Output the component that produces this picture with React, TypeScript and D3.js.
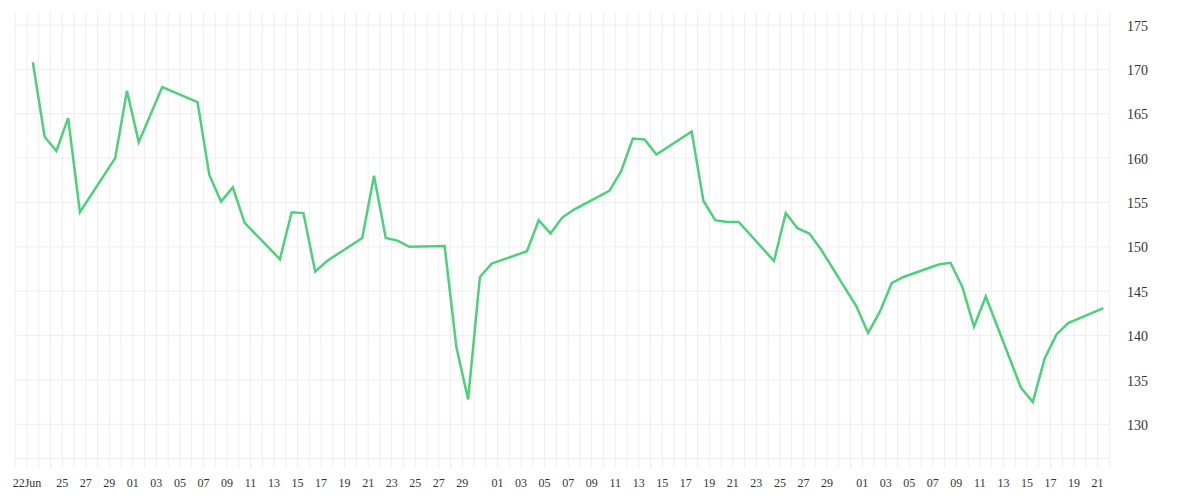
import React from "react";
import * as d3 from "d3";

// ---- data ----
const dates: string[] = [
  "2020-06-22", "2020-06-23", "2020-06-24", "2020-06-25", "2020-06-26",
  "2020-06-29", "2020-06-30", "2020-07-01", "2020-07-03",
  "2020-07-06", "2020-07-07", "2020-07-08", "2020-07-09", "2020-07-10",
  "2020-07-13", "2020-07-14", "2020-07-15", "2020-07-16", "2020-07-17",
  "2020-07-20", "2020-07-21", "2020-07-22", "2020-07-23", "2020-07-24",
  "2020-07-27", "2020-07-28", "2020-07-29", "2020-07-30", "2020-07-31",
  "2020-08-03", "2020-08-04", "2020-08-05", "2020-08-06", "2020-08-07",
  "2020-08-10", "2020-08-11", "2020-08-12", "2020-08-13", "2020-08-14",
  "2020-08-17", "2020-08-18", "2020-08-19", "2020-08-20", "2020-08-21",
  "2020-08-24", "2020-08-25", "2020-08-26", "2020-08-27", "2020-08-28",
  "2020-08-31", "2020-09-01", "2020-09-02", "2020-09-03", "2020-09-04",
  "2020-09-07", "2020-09-08", "2020-09-09", "2020-09-10", "2020-09-11",
  "2020-09-14", "2020-09-15", "2020-09-16", "2020-09-17", "2020-09-18",
  "2020-09-21",
];

const prices: number[] = [
  170.8, 162.4, 160.8, 164.5, 153.9,
  160.0, 167.6, 161.8, 168.0,
  166.3, 158.1, 155.1, 156.7, 152.7,
  148.6, 153.9, 153.8, 147.2, 148.4,
  151.0, 158.0, 151.0, 150.7, 150.0,
  150.1, 138.7, 132.8, 146.6, 148.1,
  149.5, 153.0, 151.5, 153.3, 154.2,
  156.3, 158.5, 162.2, 162.1, 160.4,
  163.0, 155.2, 153.0, 152.8, 152.8,
  148.4, 153.8, 152.1, 151.5, 149.7,
  143.3, 140.3, 142.7, 145.9, 146.6,
  148.0, 148.2, 145.5, 141.0, 144.4,
  134.1, 132.5, 137.4, 140.1, 141.4,
  143.1,
];

const xTickDates: string[] = [
  "2020-06-22", "2020-06-25", "2020-06-27", "2020-06-29",
  "2020-07-01", "2020-07-03", "2020-07-05", "2020-07-07", "2020-07-09",
  "2020-07-11", "2020-07-13", "2020-07-15", "2020-07-17", "2020-07-19",
  "2020-07-21", "2020-07-23", "2020-07-25", "2020-07-27", "2020-07-29",
  "2020-08-01", "2020-08-03", "2020-08-05", "2020-08-07", "2020-08-09",
  "2020-08-11", "2020-08-13", "2020-08-15", "2020-08-17", "2020-08-19",
  "2020-08-21", "2020-08-23", "2020-08-25", "2020-08-27", "2020-08-29",
  "2020-09-01", "2020-09-03", "2020-09-05", "2020-09-07", "2020-09-09",
  "2020-09-11", "2020-09-13", "2020-09-15", "2020-09-17", "2020-09-19",
  "2020-09-21",
];

const yTicks: number[] = [130, 135, 140, 145, 150, 155, 160, 165, 170, 175];

const domainStart = "2020-06-21";
const domainEnd = "2020-09-22";

// ---- layout ----
const W = 1200;
const H = 500;
const LEFT = 15.2;
const RIGHT = 1109.3;
const TOP = 12.3;
const BOTTOM = 458.5;
const TICK_BOTTOM = 468;
const LINE_COLOR = "#4cd17a";
const GRID_COLOR = "#eeeeee";
const TEXT_COLOR = "#333333";

const parse = d3.timeParse("%Y-%m-%d");

export default function App() {
  const start = parse(domainStart) as Date;
  const end = parse(domainEnd) as Date;

  const x = d3.scaleTime().domain([start, end]).range([LEFT, RIGHT]);
  const y = d3.scaleLinear().domain([130, 175]).range([424.3, 25]);

  const points = dates.map((s, i) => ({
    date: d3.timeHour.offset(parse(s) as Date, 12),
    value: prices[i],
  }));

  const line = d3
    .line<{ date: Date; value: number }>()
    .x((d) => x(d.date))
    .y((d) => y(d.value));

  const days = d3.timeDay.range(start, d3.timeDay.offset(end, 1));
  const fmtDay = d3.timeFormat("%d");
  const fmtFirst = d3.timeFormat("%d%b");

  return (
    <svg
      width={W}
      height={H}
      style={{ position: "absolute", left: 0, top: 0, background: "#fff" }}
    >
      <g>
        {days.map((d, i) => (
          <line
            key={"v" + i}
            x1={x(d)}
            x2={x(d)}
            y1={TOP}
            y2={TICK_BOTTOM}
            stroke={GRID_COLOR}
            strokeWidth={1}
          />
        ))}
        {yTicks.map((t) => (
          <line
            key={"h" + t}
            x1={LEFT}
            x2={RIGHT}
            y1={y(t)}
            y2={y(t)}
            stroke={GRID_COLOR}
            strokeWidth={1}
          />
        ))}
        <line
          x1={LEFT}
          x2={RIGHT}
          y1={BOTTOM}
          y2={BOTTOM}
          stroke={GRID_COLOR}
          strokeWidth={1}
        />
      </g>
      <path
        d={line(points) || ""}
        fill="none"
        stroke={LINE_COLOR}
        strokeWidth={2.5}
        strokeLinejoin="miter"
      />
      <g fill={TEXT_COLOR} fontSize={14}>
        {yTicks.map((t) => (
          <text key={"yl" + t} x={1127} y={y(t)} dy="0.4em">
            {t}
          </text>
        ))}
      </g>
      <g fill={TEXT_COLOR} fontSize={12} textAnchor="middle">
        {xTickDates.map((s, i) => {
          const d = parse(s) as Date;
          return (
            <text key={"xl" + s} x={x(d)} y={487}>
              {i === 0 ? fmtFirst(d) : fmtDay(d)}
            </text>
          );
        })}
      </g>
    </svg>
  );
}
